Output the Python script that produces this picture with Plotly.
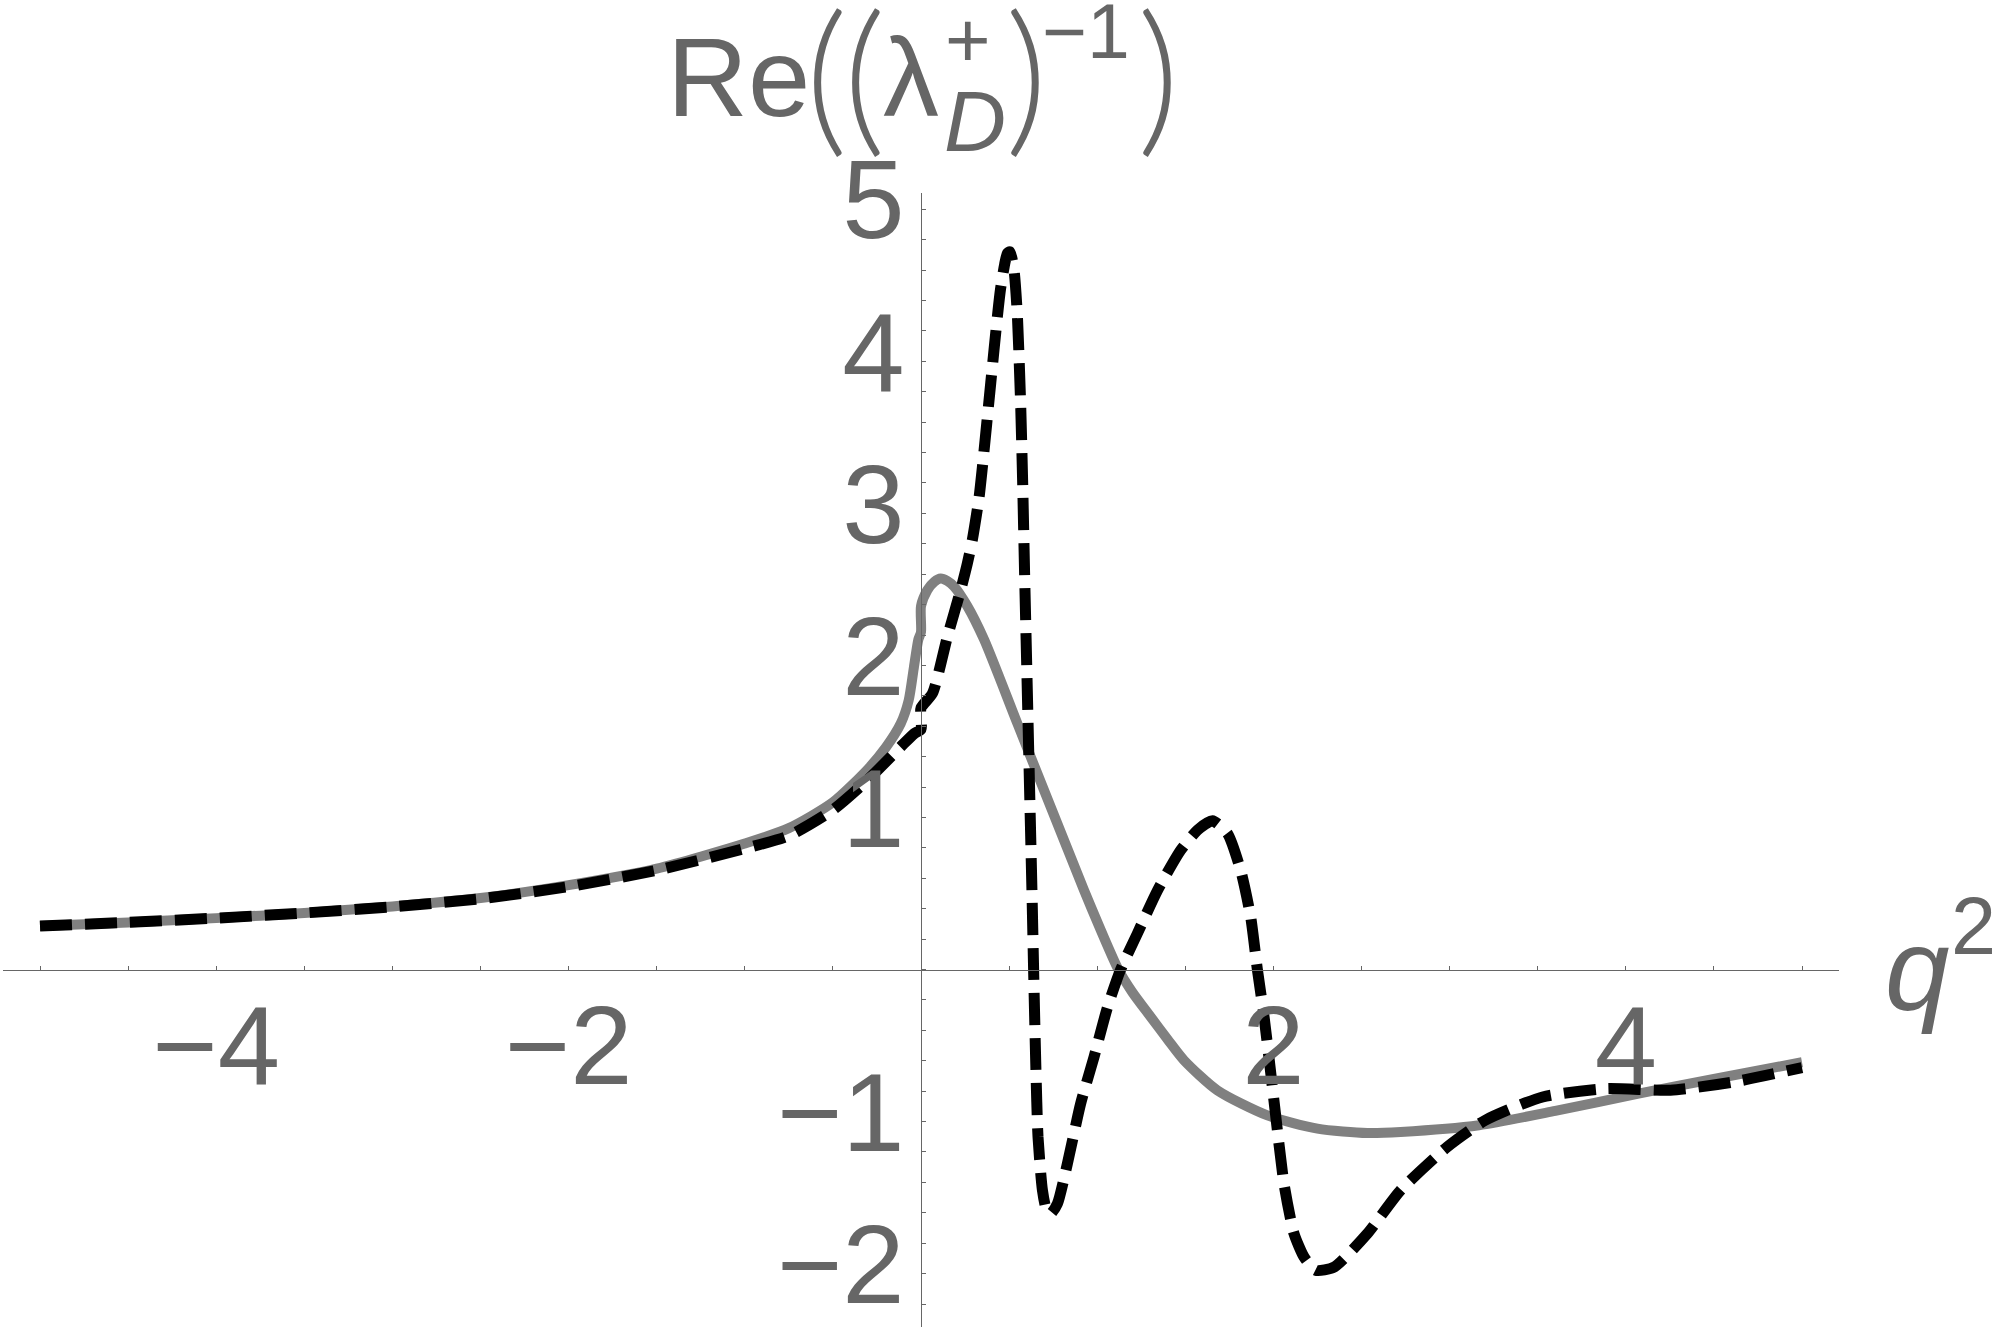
import plotly.graph_objects as go

# solid gray curve
q_gray = [-5.0, -4.5, -4.0, -3.5, -3.0, -2.5, -2.0, -1.5, -1.0, -0.75, -0.5, -0.3, -0.2, -0.115, -0.07, -0.04,
          -0.015, 0.0, 0.0, 0.036, 0.075, 0.112, 0.15, 0.187, 0.263, 0.358, 0.547, 0.736, 0.925, 1.02, 1.12, 1.2,
          1.304, 1.4, 1.493, 1.682, 1.966, 2.25, 2.533, 2.722, 3.167, 3.6, 4.072, 4.5, 5.0]
re_gray = [0.287, 0.31, 0.338, 0.372, 0.415, 0.47, 0.555, 0.664, 0.829, 0.93, 1.10, 1.32, 1.46, 1.618, 1.77, 1.99,
           2.17, 2.22, 2.39, 2.495, 2.55, 2.572, 2.555, 2.52, 2.39, 2.17, 1.618, 1.07, 0.522, 0.26, 0.0, -0.15,
           -0.312, -0.46, -0.597, -0.794, -0.959, -1.046, -1.075, -1.068, -1.024, -0.93, -0.816, -0.72, -0.61]

# dashed black curve
q_black = [-5.0, -4.5, -4.0, -3.5, -3.0, -2.5, -2.0, -1.5, -1.0, -0.75, -0.5, -0.3, -0.115, -0.04,
           0.0, 0.0, 0.065, 0.15, 0.225, 0.263, 0.292, 0.329, 0.348, 0.396, 0.434, 0.452, 0.475, 0.49, 0.505,
           0.528, 0.547, 0.566, 0.577, 0.588, 0.603, 0.618, 0.630, 0.640, 0.652, 0.664, 0.689, 0.712, 0.736,
           0.774, 0.831, 0.906, 0.982, 1.058, 1.133, 1.228, 1.342, 1.474, 1.569, 1.654, 1.739, 1.814, 1.871,
           1.909, 1.947, 2.003, 2.06, 2.117, 2.174, 2.24, 2.344, 2.533, 2.722, 2.986, 3.203, 3.528, 3.891,
           4.253, 4.615, 5.0]
re_black = [0.287, 0.31, 0.338, 0.372, 0.413, 0.465, 0.545, 0.653, 0.796, 0.88, 1.05, 1.25, 1.465, 1.55,
            1.58, 1.72, 1.816, 2.19, 2.495, 2.67, 2.83, 3.10, 3.30, 3.86, 4.30, 4.48, 4.64, 4.71, 4.72,
            4.6, 4.3, 3.7, 3.2, 2.6, 1.85, 1.1, 0.5, -0.05, -0.65, -1.1, -1.45, -1.58, -1.605,
            -1.54, -1.276, -0.882, -0.575, -0.25, 0.0, 0.237, 0.52, 0.785, 0.917, 0.978, 0.895, 0.653, 0.346,
            0.0, -0.31, -0.86, -1.408, -1.737, -1.891, -1.978, -1.957, -1.737, -1.452, -1.167, -0.991, -0.838, -0.783,
            -0.794, -0.739, -0.645]

x_labels = [-4, -2, 2, 4]
y_labels = [-2, -1, 1, 2, 3, 4, 5]

W, H = 2000, 1344
L, R, T, B = 3, 161, 193, 17
GRAY = "#666666"
FONT = "Liberation Sans, Arial, Helvetica, sans-serif"
PAREN_FONT = "Lato, Liberation Sans, sans-serif"


def px(x, y):
    # pixel position -> paper coordinates
    return (x - L) / (W - L - R), (H - B - y) / (H - T - B)


fig = go.Figure()
fig.add_trace(go.Scatter(x=q_gray, y=re_gray, mode="lines",
                         line=dict(color="#808080", width=10, shape="spline", smoothing=0.7)))
fig.add_trace(go.Scatter(x=q_black, y=re_black, mode="lines",
                         line=dict(color="black", width=11, dash="32px,13px", shape="spline", smoothing=0.6)))

axis_common = dict(showgrid=False, zeroline=False, showline=True, linecolor=GRAY, linewidth=1,
                   ticks="inside", ticklen=4, tickwidth=1, tickcolor=GRAY, anchor="free",
                   tickfont=dict(family=FONT, size=112, color=GRAY), tickmode="array",
                   ticklabeloverflow="allow")

fig.update_xaxes(range=[-5.21, 5.21], position=2.351 / 7.458, tickvals=x_labels,
                 ticklabelstandoff=-21,
                 minor=dict(ticks="inside", ticklen=4, tickwidth=1, tickcolor=GRAY,
                            tickmode="linear", tick0=0, dtick=0.5, showgrid=False),
                 **axis_common)
fig.update_yaxes(range=[-2.351, 5.107], position=0.5, tickvals=y_labels,
                 ticklabelstandoff=-6, ticklabelshift=-10,
                 minor=dict(ticks="inside", ticklen=4, tickwidth=1, tickcolor=GRAY,
                            tickmode="linear", tick0=0, dtick=0.2, showgrid=False),
                 **axis_common)

# title pieces: Re((λ_D^+)^-1) and axis label q^2
pieces = [
    ("Re", 738, 77.5, 112, False, FONT, 400),
    ("(", 826, 70, 166, False, PAREN_FONT, 300),
    ("(", 864.5, 70, 166, False, PAREN_FONT, 300),
    ("λ", 911, 77.5, 112, False, FONT, 400),
    ("+", 968.5, 40, 78, False, FONT, 400),
    ("D", 975, 121, 86, True, FONT, 400),
    (")", 1026, 70, 166, False, PAREN_FONT, 300),
    ("−1", 1085.5, 31, 77, False, FONT, 400),
    (")", 1158, 70, 166, False, PAREN_FONT, 300),
    ("q", 1917, 970, 116, True, FONT, 400),
    ("2", 1973, 926, 81, False, FONT, 400),
]
for txt, xp, yp, size, ital, fam, wt in pieces:
    ax_, ay_ = px(xp, yp)
    fig.add_annotation(x=ax_, y=ay_, xref="paper", yref="paper", text=f"<i>{txt}</i>" if ital else txt,
                       showarrow=False, xanchor="center", yanchor="middle",
                       font=dict(family=fam, size=size, color=GRAY, weight=wt))

fig.update_layout(width=W, height=H, margin=dict(l=L, r=R, t=T, b=B),
                  paper_bgcolor="white", plot_bgcolor="white", showlegend=False)

fig.write_html("out.html", config={"displayModeBar": False},
               post_script="document.body.style.margin='0px';")
